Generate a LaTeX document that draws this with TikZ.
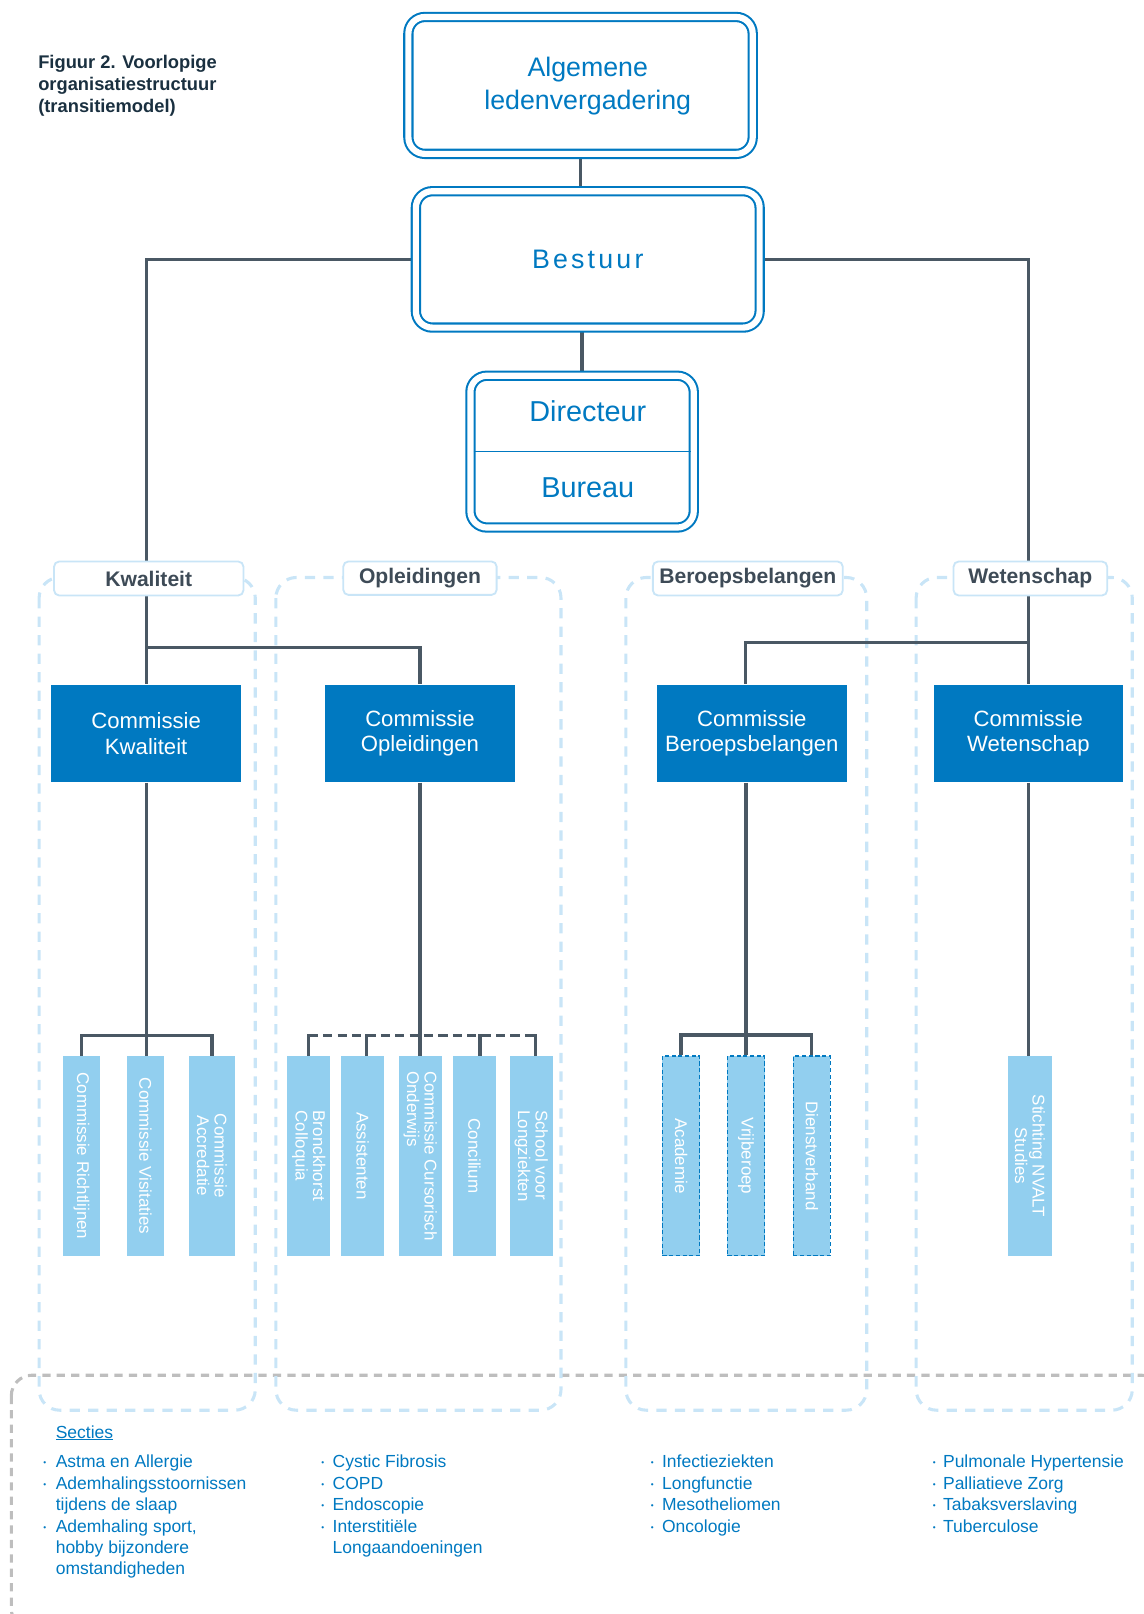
\documentclass[tikz,border=0pt]{standalone}
\usepackage{fontspec}
\setmainfont{Liberation Sans}
\newfontfamily\spacedfont[LetterSpace=12]{Liberation Sans}
\usetikzlibrary{backgrounds,calc}
\definecolor{nblue}{HTML}{0079C1}
\definecolor{lblue}{HTML}{92CFEF}
\definecolor{gblue}{HTML}{C9E5F7}
\definecolor{conncol}{HTML}{4A5864}
\definecolor{labtext}{HTML}{3E4B57}
\definecolor{titlecol}{HTML}{1A3040}
\definecolor{greyd}{HTML}{BEBEBE}
\begin{document}
\begin{tikzpicture}[x=1pt,y=-1pt,
  dbox/.style={draw=nblue, line width=2pt, double=white, double distance=6pt, rounded corners=16pt, inner sep=0pt},
  bigtext/.style={text=nblue, inner sep=0pt, align=center},
  cbox/.style={fill=nblue, text=white, minimum width=184pt, minimum height=95pt, align=center, font=\fontsize{21.5}{25}\selectfont, inner sep=0pt},
  labbox/.style={draw=gblue, line width=1.8pt, fill=white, rounded corners=5pt, text=labtext, font=\bfseries\fontsize{20.5}{24}\selectfont, inner sep=0pt},
  subbox/.style={fill=lblue, inner sep=0pt, minimum height=194pt},
  dsub/.style={subbox, draw=nblue, line width=1.3pt, dash pattern=on 4pt off 2.5pt},
  subtext/.style={rotate=-90, text=white, font=\fontsize{16.5}{17}\selectfont, inner sep=0pt},
  conn/.style={draw=conncol, line width=3.2pt},
  grp/.style={draw=gblue, line width=3pt, dash pattern=on 10pt off 8pt, rounded corners=20pt},
  ttl/.style={anchor=base west, inner sep=0pt, text=titlecol, font=\bfseries\fontsize{17.8}{21}\selectfont},
  li/.style={anchor=base west, inner sep=0pt, text=nblue, font=\fontsize{17}{20}\selectfont},
  bul/.style={anchor=base west, inner sep=0pt, text=nblue, font=\fontsize{8}{8}\selectfont},
]
\useasboundingbox (0,0) rectangle (1111,1568);

% title
\node[ttl] (t1) at (37,66.4) {Figuur 2. Voorlopige};
\node[ttl] (t2) at (37,88) {organisatiestructuur};
\node[ttl] (t3) at (37,109.5) {(transitiemodel)};

% top boxes
\node[dbox, minimum width=334.5pt, minimum height=133pt] (alv) at (564,83) {};
\node[bigtext, font=\fontsize{26}{32}\selectfont] (alvt) at (571,84) {Algemene\\ledenvergadering};
\node[dbox, minimum width=334pt, minimum height=132.5pt] (bes) at (571,252) {};
\node[bigtext, font=\spacedfont\fontsize{26}{32}\selectfont] (best) at (571,252) {Bestuur};
\node[dbox, minimum width=217pt, minimum height=147.5pt] (dir) at (565.5,438.75) {};
\draw[nblue, line width=1.5pt] ([xshift=4pt]dir.west) -- ([xshift=-4pt]dir.east);
\node[bigtext, font=\fontsize{28}{32}\selectfont] (dirt) at (571,399) {Directeur};
\node[bigtext, font=\fontsize{28}{32}\selectfont] (burt) at (571,474) {Bureau};

% labels
\node[labbox, minimum width=184pt, minimum height=33pt] (lkw) at (144.5,562) {Kwaliteit};
\node[labbox, minimum width=149pt, minimum height=32.5pt] (lop) at (408,561.7) {Opleidingen};
\node[labbox, minimum width=184.5pt, minimum height=33pt] (lbb) at (726.5,562) {Beroepsbelangen};
\node[labbox, minimum width=149.3pt, minimum height=33pt] (lws) at (1001,562) {Wetenschap};

% commissies
\node[cbox] (ckw) at (142,712.5) {Commissie\\Kwaliteit};
\node[cbox] (cop) at (408,712.5) {Commissie\\Opleidingen};
\node[cbox] (cbb) at (730.4,712.5) {Commissie\\Beroepsbelangen};
\node[cbox] (cws) at (999,712.5) {Commissie\\Wetenschap};

% sub items Kwaliteit
\node[subbox, minimum width=36pt] (r1) at (79.2,1123) {};
\node[subtext] (r1t) at (r1) {Commissie Richtlijnen};
\node[subbox, minimum width=36pt] (r2) at (141.3,1123) {};
\node[subtext] (r2t) at (r2) {Commissie Visitaties};
\node[subbox, minimum width=44.7pt] (r3) at (206,1123) {};
\node[subtext, align=center] (r3t) at (r3) {Commissie\\Accredatie};

% sub items Opleidingen
\node[subbox, minimum width=41.3pt] (b1) at (299.9,1123) {};
\node[subtext, align=left] (b1t) at (b1) {Bronckhorst\\Colloquia};
\node[subbox, minimum width=41.7pt] (b2) at (352.3,1123) {};
\node[subtext] (b2t) at (b2) {Assistenten};
\node[subbox, minimum width=41.7pt] (b3) at (408.4,1123) {};
\node[subtext, align=left] (b3t) at (b3) {Commissie Cursorisch\\Onderwijs};
\node[subbox, minimum width=41.7pt] (b4) at (460.9,1123) {};
\node[subtext] (b4t) at (b4) {Concilium};
\node[subbox, minimum width=42pt] (b5) at (516.2,1123) {};
\node[subtext, align=left] (b5t) at (b5) {School voor\\Longziekten};

% sub items Beroepsbelangen
\node[dsub, minimum width=36.2pt] (a1) at (661.7,1123) {};
\node[subtext] (a1t) at (a1) {Academie};
\node[dsub, minimum width=36.2pt] (a2) at (724.8,1123) {};
\node[subtext] (a2t) at (a2) {Vrijberoep};
\node[dsub, minimum width=36pt] (a3) at (788.7,1123) {};
\node[subtext] (a3t) at (a3) {Dienstverband};

% sub item Wetenschap
\node[subbox, minimum width=43.4pt] (s1) at (1000.6,1123) {};
\node[subtext, align=center] (s1t) at (s1) {Stichting NVALT\\Studies};

% secties
\node[li] (sec) at (54,1397) {\underline{Secties}};
\foreach \bx/\y [count=\i] in {42/1426, 42/1446.8, 42/1488.4, 312/1426, 312/1446.8, 312/1467.6, 312/1488.4, 632/1426, 632/1446.8, 632/1467.6, 632/1488.4, 906/1426, 906/1446.8, 906/1467.6, 906/1488.4}
  \node[bul] (bul\i) at (\bx,\y-1.8) {•};
\node[li] (c1a) at (54,1426) {Astma en Allergie};
\node[li] (c1b) at (54,1446.8) {Ademhalingsstoornissen};
\node[li] (c1c) at (54,1467.6) {tijdens de slaap};
\node[li] (c1d) at (54,1488.4) {Ademhaling sport,};
\node[li] (c1e) at (54,1509.2) {hobby bijzondere};
\node[li] (c1f) at (54,1530) {omstandigheden};
\node[li] (c2a) at (323,1426) {Cystic Fibrosis};
\node[li] (c2b) at (323,1446.8) {COPD};
\node[li] (c2c) at (323,1467.6) {Endoscopie};
\node[li] (c2d) at (323,1488.4) {Interstitiële};
\node[li] (c2e) at (323,1509.2) {Longaandoeningen};
\node[li] (c3a) at (643,1426) {Infectieziekten};
\node[li] (c3b) at (643,1446.8) {Longfunctie};
\node[li] (c3c) at (643,1467.6) {Mesotheliomen};
\node[li] (c3d) at (643,1488.4) {Oncologie};
\node[li] (c4a) at (916,1426) {Pulmonale Hypertensie};
\node[li] (c4b) at (916,1446.8) {Palliatieve Zorg};
\node[li] (c4c) at (916,1467.6) {Tabaksverslaving};
\node[li] (c4d) at (916,1488.4) {Tuberculose};

\begin{scope}[on background layer]
  % big grey dashed frame
  \draw[greyd, line width=3pt, dash pattern=on 8pt off 6pt, rounded corners=20pt] (11,1336) rectangle (1129,1583);
  % group frames
  \draw[grp] (38,561) rectangle (248,1370);
  \draw[grp] (268,561) rectangle (545,1370);
  \draw[grp] (608,561) rectangle (842,1370);
  \draw[grp] (890,561) rectangle (1100,1370);
  % connectors
  \draw[conn] (alv.south) -- (alv.south |- bes.north);
  \draw[conn] (dir.north |- bes.south) -- (dir.north);
  \draw[conn] (bes.west) -| (ckw.north);
  \draw[conn] (bes.east) -| (cws.north);
  \coordinate (jk) at (142,629);
  \draw[conn] (jk) -| (cop.north);
  \coordinate (jw) at (999,624);
  \draw[conn] (jw) -| ([xshift=-6pt]cbb.north);
  % Kwaliteit sub
  \draw[conn] (ckw.south) -- (ckw.south |- r2.north);
  \draw[conn] (r1.north) -- ++(0,-20) -| (r3.north);
  % Opleidingen sub
  \draw[conn] (cop.south) -- (cop.south |- b3.north);
  \draw[conn, dash pattern=on 9pt off 5pt] ($(b1.north)+(0,-20)$) -- ($(b5.north)+(4.3,-20)$);
  \draw[conn] (b1.north) -- ++(0,-21.6);
  \draw[conn] ([xshift=4pt]b2.north) -- ++(0,-21.6);
  \draw[conn] ([xshift=5.4pt]b4.north) -- ++(0,-21.6);
  \draw[conn] ([xshift=4.3pt]b5.north) -- ++(0,-21.6);
  % Beroepsbelangen sub
  \draw[conn] (a2.north |- cbb.south) -- (a2.north);
  \draw[conn] (a1.north) -- ++(0,-20) -| (a3.north);
  % Wetenschap sub
  \draw[conn] (cws.south) -- (cws.south |- s1.north);
\end{scope}
\end{tikzpicture}
\end{document}
